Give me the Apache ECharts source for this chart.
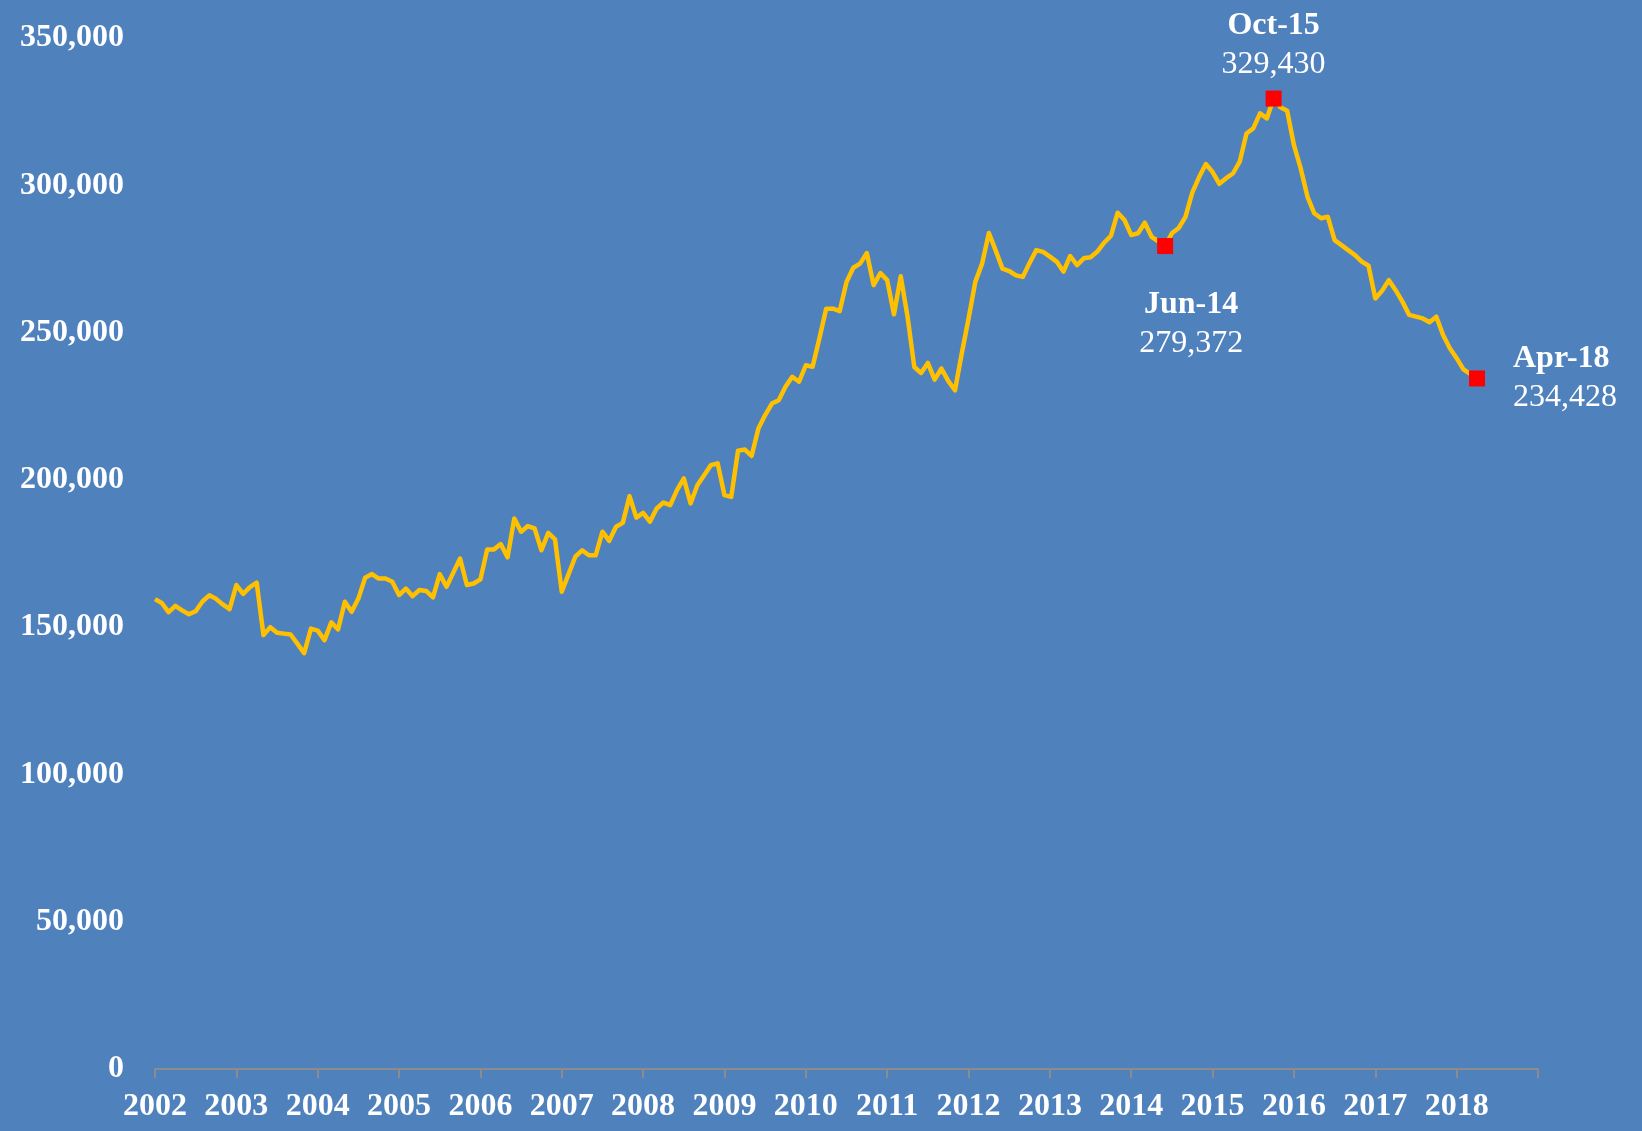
<!DOCTYPE html>
<html>
<head>
<meta charset="utf-8">
<title>Monthly series 2002-2018</title>
<script src="https://cdn.jsdelivr.net/npm/echarts@6.0.0/dist/echarts.min.js"></script>
<style>
  html, body { margin: 0; padding: 0; background: #4F81BD; }
  #chart { width: 1642px; height: 1131px; }
</style>
</head>
<body>
<div id="chart"></div>
<script>
// monthly values, Jan 2002 .. Apr 2018
var startYear = 2002;
var yearLabels = ['2002','2003','2004','2005','2006','2007','2008','2009','2010',
                  '2011','2012','2013','2014','2015','2016','2017','2018'];
var values = [
    159500, 158200, 155100, 157200, 155700, 154400, 155400, 158700, 160800, 159600, 157700, 156100, // 2002
    164300, 161300, 163600, 165100, 147300, 150000, 148100, 147800, 147500, 144400, 141200, 149500, // 2003
    148800, 145600, 151600, 149200, 158600, 155200, 159700, 166800, 168000, 166500, 166500, 165400, // 2004
    160900, 163100, 160500, 162600, 162300, 160100, 168000, 163700, 168500, 173300, 164300, 164800, // 2005
    166200, 176400, 176400, 178200, 173700, 186900, 182400, 184300, 183500, 176100, 182000, 179800, // 2006
    162000, 168000, 173900, 176100, 174400, 174400, 182400, 179300, 184100, 185400, 194500, 187200, // 2007
    188800, 185800, 190300, 192300, 191400, 196500, 200500, 192000, 198200, 201600, 205000, 205600, // 2008
    194800, 194200, 209900, 210300, 208100, 217400, 222000, 225900, 227000, 231600, 235000, 233300, // 2009
    238900, 238400, 248000, 258100, 258100, 257300, 267200, 272000, 273400, 277000, 266100, 270200, // 2010
    267800, 256200, 269100, 255500, 238300, 236300, 239700, 234000, 237800, 233600, 230400, 242900, // 2011
    254700, 267200, 273400, 283800, 277900, 271700, 270900, 269400, 268900, 273600, 278000, 277400, // 2012
    275800, 274100, 270700, 276000, 272900, 275200, 275600, 277500, 280500, 282800, 290700, 288200, // 2013
    283100, 283700, 287300, 282500, 281000, 279372, 283700, 285500, 289300, 297500, 302700, 307200, // 2014
    304500, 300500, 302400, 304000, 308000, 317600, 319300, 324400, 322700, 329430, 326500, 325300, // 2015
    313600, 305700, 296100, 290500, 288800, 289300, 281400, 279700, 278000, 276300, 274100, 272700, // 2016
    261600, 264200, 267800, 264400, 260500, 256000, 255400, 254800, 253500, 255400, 249200, 244700, // 2017
    241300, 237500, 236000, 234428                                                                  // 2018
];
// highlighted months (index into values)
var highlightNames = ['Jun-14', 'Oct-15', 'Apr-18'];
var highlightIndex = [149, 165, 195];

var fontFamily = 'Garamond, "Liberation Serif", "DejaVu Serif", serif';

function fmt(v) {
    return Math.round(v).toLocaleString('en-US');
}

var lineData = values.map(function (v, i) {
    return [startYear + i / 12, v];
});

// label placement for each highlighted point
var labelPlace = {
    'Jun-14': { position: 'bottom', distance: 31, offset: [26, 0], align: 'center' },
    'Oct-15': { position: 'top', distance: 6, offset: [0, 0], align: 'center' },
    'Apr-18': { position: 'right', distance: 28, offset: [0, 0], align: 'left' }
};

var markData = highlightNames.map(function (name, k) {
    var idx = highlightIndex[k];
    var p = labelPlace[name];
    return {
        value: [startYear + idx / 12, values[idx]],
        label: {
            show: true,
            position: p.position,
            distance: p.distance,
            offset: p.offset,
            align: p.align,
            opacity: 1,
            formatter: '{a|' + name + '}\n{b|' + fmt(values[idx]) + '}',
            rich: {
                a: { color: '#ffffff', fontFamily: fontFamily, fontSize: 32, fontWeight: 'bold', lineHeight: 39, align: p.align },
                b: { color: '#ffffff', fontFamily: fontFamily, fontSize: 32, fontWeight: 'normal', lineHeight: 39, align: p.align }
            }
        }
    };
});

var myChart = echarts.init(document.getElementById('chart'));
var option = {
    backgroundColor: '#4F81BD',
    animation: false,
    grid: {
        left: 155,
        right: 104,
        top: 38,
        bottom: 62,
        containLabel: false
    },
    xAxis: {
        type: 'value',
        min: startYear,
        max: startYear + yearLabels.length,
        interval: 1,
        splitLine: { show: false },
        axisLine: { show: true, lineStyle: { color: '#8c8c8c', width: 2 } },
        axisTick: { show: true, length: 9, lineStyle: { color: '#8c8c8c', width: 2 } },
        axisLabel: {
            color: '#fff',
            fontFamily: fontFamily,
            fontSize: 32,
            fontWeight: 'bold',
            margin: 22,
            showMaxLabel: true,
            formatter: function (v) {
                var i = Math.round(v) - startYear;
                return yearLabels[i] || '';
            }
        }
    },
    yAxis: {
        type: 'value',
        min: 0,
        max: 350000,
        interval: 50000,
        splitLine: { show: false },
        axisLine: { show: false },
        axisTick: { show: false },
        axisLabel: {
            color: '#fff',
            fontFamily: fontFamily,
            fontSize: 32,
            fontWeight: 'bold',
            margin: 31,
            formatter: function (v) { return fmt(v); }
        }
    },
    series: [
        {
            name: 'values',
            type: 'line',
            data: lineData,
            showSymbol: false,
            symbol: 'none',
            lineStyle: { color: '#FFC000', width: 4.5, join: 'round' },
            z: 2
        },
        {
            name: 'highlights',
            type: 'scatter',
            data: markData,
            symbol: 'rect',
            symbolSize: 16,
            itemStyle: { color: '#FF0000', opacity: 1 },
            emphasis: { disabled: true },
            z: 3
        }
    ]
};
myChart.setOption(option);
</script>
</body>
</html>
